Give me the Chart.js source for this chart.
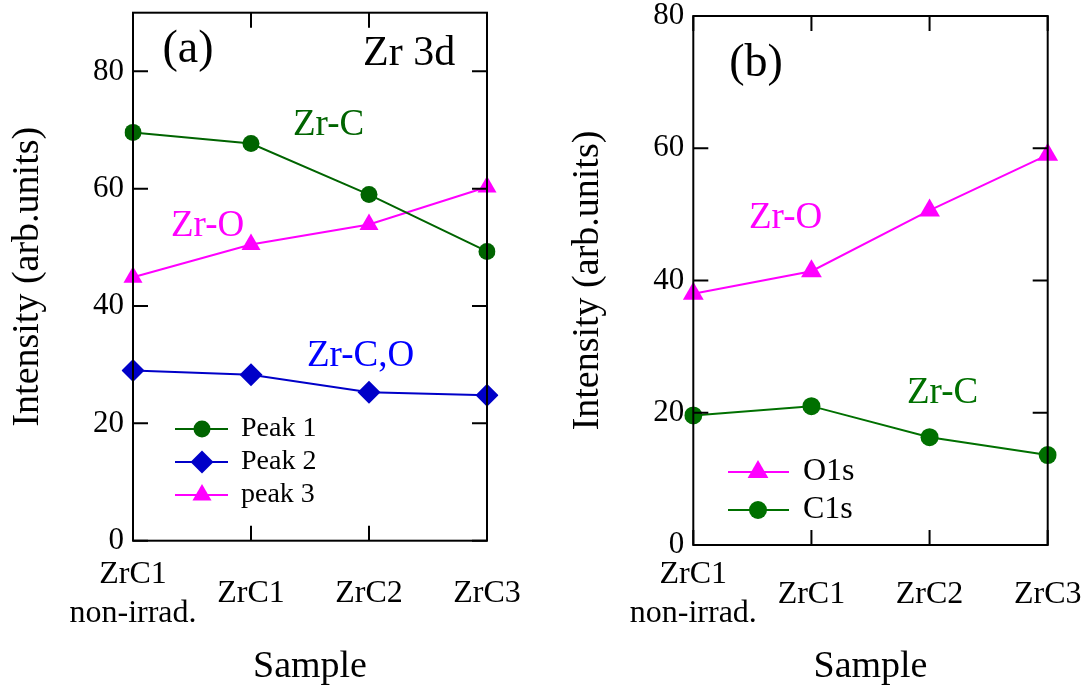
<!DOCTYPE html>
<html>
<head>
<meta charset="utf-8">
<script src="https://cdn.jsdelivr.net/npm/chart.js@4/dist/chart.umd.min.js"></script>
<style>
  html, body { margin: 0; padding: 0; background: #fff; }
  #wrap { position: relative; width: 1089px; height: 685px; }
  .box { position: absolute; top: 0; height: 685px; }
  #boxA { left: 0; width: 545px; }
  #boxB { left: 545px; width: 544px; }
</style>
</head>
<body>
<div id="wrap">
  <div class="box" id="boxA"><canvas id="chartA"></canvas></div>
  <div class="box" id="boxB"><canvas id="chartB"></canvas></div>
</div>
<script>
// samples on the x axis (same for both panels)
const samples = [['ZrC1', 'non-irrad.'], 'ZrC1', 'ZrC2', 'ZrC3'];

// panel (a): Zr 3d peaks
const peak1 = [69.6, 67.7, 59.0, 49.3];
const peak2 = [29.0, 28.3, 25.3, 24.8];
const peak3 = [44.9, 50.5, 53.9, 60.3];

// panel (b): O1s and C1s
const o1s = [38.0, 41.4, 50.6, 59.0];
const c1s = [19.6, 21.0, 16.3, 13.6];

const yTicksA = { min: 0, max: 90, step: 20 };
const yTicksB = { min: 0, max: 80, step: 20 };

const FONT = '"Liberation Serif", "DejaVu Serif", serif';
const GREEN = '#006400';
const GREEN_B = '#007000';
const BLUE = '#0000c8';
const MAGENTA = '#ff00ff';

// frame with inward ticks on all four sides
const framePlugin = {
  id: 'frame',
  afterDraw(chart) {
    const ctx = chart.ctx;
    const a = chart.chartArea;
    const xs = chart.scales.x, ys = chart.scales.y;
    const len = 15;
    ctx.save();
    ctx.strokeStyle = '#000';
    ctx.lineWidth = 2;
    ctx.strokeRect(a.left, a.top, a.right - a.left, a.bottom - a.top);
    ctx.beginPath();
    xs.ticks.forEach((t, i) => {
      const px = xs.getPixelForTick(i);
      ctx.moveTo(px, a.bottom); ctx.lineTo(px, a.bottom - len);
      ctx.moveTo(px, a.top); ctx.lineTo(px, a.top + len);
    });
    ys.ticks.forEach((t) => {
      const py = ys.getPixelForValue(t.value);
      ctx.moveTo(a.left, py); ctx.lineTo(a.left + len, py);
      ctx.moveTo(a.right, py); ctx.lineTo(a.right - len, py);
    });
    ctx.stroke();
    ctx.restore();
  }
};

// free text labels inside the panels
const notesPlugin = {
  id: 'notes',
  afterDraw(chart, args, opts) {
    const ctx = chart.ctx;
    (opts.items || []).forEach(n => {
      ctx.save();
      ctx.font = n.size + 'px ' + FONT;
      ctx.fillStyle = n.color || '#000';
      ctx.textAlign = n.align || 'left';
      ctx.textBaseline = n.baseline || 'alphabetic';
      ctx.fillText(n.text, n.x, n.y);
      ctx.restore();
    });
  }
};

function marker(ctx, ds, x, y) {
  const r = ds.pointRadius;
  ctx.fillStyle = ds.pointBackgroundColor;
  ctx.beginPath();
  if (ds.pointStyle === 'triangle') {
    ctx.moveTo(x, y - r);
    ctx.lineTo(x + r * Math.sin(2 * Math.PI / 3), y + r / 2);
    ctx.lineTo(x - r * Math.sin(2 * Math.PI / 3), y + r / 2);
  } else if (ds.pointStyle === 'rectRot') {
    ctx.moveTo(x, y - r); ctx.lineTo(x + r, y); ctx.lineTo(x, y + r); ctx.lineTo(x - r, y);
  } else {
    ctx.arc(x, y, r, 0, Math.PI * 2);
  }
  ctx.closePath();
  ctx.fill();
}

// legend box drawn in place
const keyPlugin = {
  id: 'key',
  afterDraw(chart, args, opts) {
    const ctx = chart.ctx;
    (opts.rows || []).forEach(row => {
      const ds = chart.data.datasets[row.ds];
      ctx.save();
      ctx.strokeStyle = ds.borderColor;
      ctx.lineWidth = 2;
      ctx.beginPath();
      ctx.moveTo(opts.x0, row.y); ctx.lineTo(opts.x1, row.y);
      ctx.stroke();
      marker(ctx, ds, opts.xm, row.y);
      ctx.font = opts.size + 'px ' + FONT;
      ctx.fillStyle = '#000';
      ctx.textBaseline = 'middle';
      ctx.fillText(ds.label, opts.xt, row.y);
      ctx.restore();
    });
  }
};

function series(label, data, color, style, radius) {
  return {
    label: label,
    data: data,
    borderColor: color,
    backgroundColor: color,
    pointBackgroundColor: color,
    pointBorderColor: color,
    pointBorderWidth: 0,
    borderWidth: 2,
    pointStyle: style,
    pointRadius: radius,
    pointHoverRadius: radius,
    tension: 0
  };
}

function makeChart(id, datasets, yt, box, notes, key) {
  return new Chart(document.getElementById(id), {
    type: 'line',
    data: { labels: samples, datasets: datasets },
    plugins: [framePlugin, notesPlugin, keyPlugin],
    options: {
      responsive: true,
      maintainAspectRatio: false,
      animation: false,
      layout: { padding: { left: 0, top: box.top, right: box.right, bottom: 0 } },
      scales: {
        x: {
          type: 'category',
          offset: false,
          grid: { display: false, drawTicks: false },
          border: { display: false },
          afterFit(s) {
            s.height = box.xh;
            s.paddingLeft = 0; s.paddingRight = 0;
          },
          ticks: {
            autoSkip: false, maxRotation: 0, minRotation: 0,
            crossAlign: 'center',
            padding: box.xpad,
            color: '#000',
            font: { family: FONT, size: 32, lineHeight: 1.2 }
          },
          title: {
            display: true, text: 'Sample', color: '#000',
            padding: { top: 0, bottom: -5 },
            font: { family: FONT, size: 38 }
          }
        },
        y: {
          min: yt.min, max: yt.max,
          grid: { display: false, drawTicks: false },
          border: { display: false },
          afterFit(s) {
            s.width = box.yw;
            s.paddingTop = 0; s.paddingBottom = 0;
          },
          ticks: {
            stepSize: yt.step, includeBounds: false,
            padding: 9, color: '#000',
            font: { family: FONT, size: 31 }
          },
          title: {
            display: true, text: 'Intensity (arb.units)', color: '#000',
            padding: { top: box.ytpad, bottom: 0 },
            font: { family: FONT, size: 38 }
          }
        }
      },
      plugins: {
        legend: { display: false },
        tooltip: { enabled: false },
        notes: { items: notes },
        key: key
      }
    }
  });
}

makeChart('chartA', [
    series('Peak 1', peak1, GREEN, 'circle', 8.5),
    series('Peak 2', peak2, BLUE, 'rectRot', 11.5),
    series('peak 3', peak3, MAGENTA, 'triangle', 11)
  ], yTicksA,
  { top: 12.7, right: 58, xh: 144.3, yw: 133, xpad: 34, ytpad: 5 },
  [
    { text: '(a)', x: 188, y: 50, size: 46, align: 'center', baseline: 'middle' },
    { text: 'Zr 3d', x: 363, y: 65, size: 42 },
    { text: 'Zr-C', x: 293, y: 135, size: 37, color: GREEN },
    { text: 'Zr-O', x: 171, y: 236, size: 37, color: MAGENTA },
    { text: 'Zr-C,O', x: 307, y: 366, size: 37, color: '#0000ff' }
  ],
  { x0: 175, x1: 228, xm: 202, xt: 241, size: 28,
    rows: [{ ds: 0, y: 429 }, { ds: 1, y: 462 }, { ds: 2, y: 495 }] }
);

makeChart('chartB', [
    series('O1s', o1s, MAGENTA, 'triangle', 12),
    series('C1s', c1s, GREEN_B, 'circle', 9)
  ], yTicksB,
  { top: 16, right: 41.3, xh: 140, yw: 148.3, xpad: 30, ytpad: 20 },
  [
    { text: '(b)', x: 211, y: 64, size: 46, align: 'center', baseline: 'middle' },
    { text: 'Zr-O', x: 204, y: 228, size: 37, color: MAGENTA },
    { text: 'Zr-C', x: 362, y: 403, size: 37, color: GREEN_B }
  ],
  { x0: 183, x1: 244, xm: 213, xt: 258, size: 32,
    rows: [{ ds: 0, y: 472 }, { ds: 1, y: 510 }] }
);
</script>
</body>
</html>
